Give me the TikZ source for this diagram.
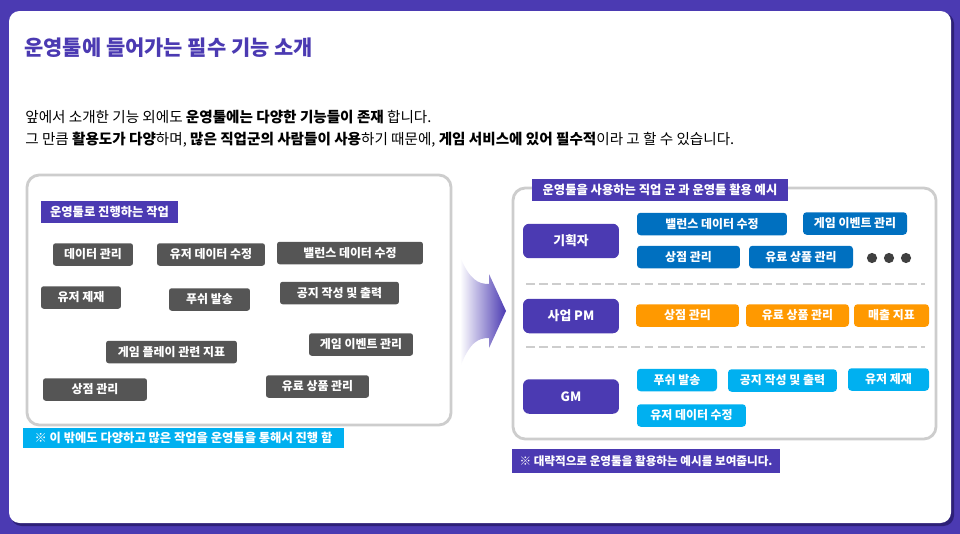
\documentclass[tikz,border=0pt]{standalone}
\usepackage{fontspec}
\setmainfont{Noto Sans CJK KR}
\usetikzlibrary{backgrounds}
\definecolor{opspurple}{RGB}{75, 58, 178}
\definecolor{opsshadow}{RGB}{45, 32, 120}
\definecolor{opsgray}{RGB}{85, 85, 85}
\definecolor{opsblue}{RGB}{0, 112, 192}
\definecolor{opsorange}{RGB}{255, 153, 0}
\definecolor{opscyan}{RGB}{0, 176, 240}
\definecolor{opsborder}{RGB}{205, 205, 205}
\definecolor{opsdots}{RGB}{64, 64, 64}

\begin{document}
\begin{tikzpicture}[x=0.02cm, y=-0.02cm,
    chip/.style={inner sep=0pt, minimum height=0.45cm, text=white,
        font=\bfseries\fontsize{6.8}{8}\selectfont},
    graybox/.style={chip, fill=opsgray, rounded corners=1.5pt},
    bluebox/.style={chip, fill=opsblue, rounded corners=2pt},
    orangebox/.style={chip, fill=opsorange, rounded corners=2pt},
    cyanbox/.style={chip, fill=opscyan, rounded corners=2pt},
    rolebox/.style={chip, fill=opspurple, rounded corners=3.5pt, minimum width=1.92cm,
        minimum height=0.69cm, font=\bfseries\fontsize{7.3}{8}\selectfont},
    tagbox/.style={chip, minimum height=0.44cm, font=\bfseries\fontsize{7}{8}\selectfont},
    panel/.style={draw=opsborder, line width=1.6pt, fill=white, rounded corners=7pt}]

% === 테두리와 배경 ===
\useasboundingbox (0,0) rectangle (960,534);
\fill[opspurple] (0,0) rectangle (960,534);
\fill[opsshadow, rounded corners=6pt] (11,13) rectangle (954,526);
\fill[white, rounded corners=6pt] (9,11) rectangle (951,523);

% === 제목과 설명 ===
\node[anchor=west, inner sep=0pt, text=opspurple, font=\bfseries\fontsize{11.9}{14}\selectfont]
    (title) at (24,48) {운영툴에 들어가는 필수 기능 소개};
\node[anchor=west, inner sep=0pt, font=\fontsize{8.3}{10}\selectfont] (line1) at (25,117)
    {앞에서 소개한 기능 외에도 \textbf{운영툴에는 다양한 기능들이 존재} 합니다.};
\node[anchor=west, inner sep=0pt, font=\fontsize{8.3}{10}\selectfont] (line2) at (25,140)
    {그 만큼 \textbf{활용도가 다양}하며, \textbf{많은 직업군의 사람들이 사용}하기 때문에, \textbf{게임 서비스에 있어 필수적}이라 고 할 수 있습니다.};

% === 왼쪽 패널: 작업 목록 ===
\draw[panel] (27,175) rectangle (451,425);
\node[tagbox, fill=opspurple, minimum width=2.74cm] (leftTag) at (109.5,212) {운영툴로 진행하는 작업};

\node[graybox, minimum width=1.6cm]  (dataMgmt)    at (93,254.5)  {데이터 관리};
\node[graybox, minimum width=2.16cm] (userEdit)    at (211,254.5) {유저 데이터 수정};
\node[graybox, minimum width=2.92cm] (balanceEdit) at (350,253)   {밸런스 데이터 수정};
\node[graybox, minimum width=1.6cm]  (userBan)     at (81,297.5)  {유저 제재};
\node[graybox, minimum width=1.62cm] (pushSend)    at (209.5,299.5) {푸쉬 발송};
\node[graybox, minimum width=2.38cm] (noticeOut)   at (339.5,293) {공지 작성 및 출력};
\node[graybox, minimum width=2.62cm] (playStat)    at (171.5,352) {게임 플레이 관련 지표};
\node[graybox, minimum width=2.08cm] (eventMgmt)   at (361,344.5) {게임 이벤트 관리};
\node[graybox, minimum width=2.08cm] (shopMgmt)    at (95,389.5)  {상점 관리};
\node[graybox, minimum width=2.06cm] (itemMgmt)    at (317.5,386.5) {유료 상품 관리};

\node[tagbox, fill=opscyan, minimum width=6.42cm, minimum height=0.4cm] (leftNote) at (183.5,438)
    {※ 이 밖에도 다양하고 많은 작업을 운영툴을 통해서 진행 함};

% === 화살표 ===
\shade[left color=white, right color=opspurple]
    (460,257) .. controls (470,280) and (478,284) .. (489,284) -- (489,274) -- (506,311)
    -- (489,348) -- (489,338) .. controls (478,338) and (470,342) .. (460,367) -- cycle;

% === 오른쪽 패널: 직업 군 ===
\draw[panel] (513,188) rectangle (936,439);
\node[tagbox, fill=opspurple, minimum width=5.12cm] (rightTag) at (660,190)
    {운영툴을 사용하는 직업 군 과 운영툴 활용 예시};

\node[rolebox] (planner) at (571,241)   {기획자};
\node[rolebox] (bizPM)   at (571,316)   {사업 PM};
\node[rolebox] (gm)      at (571,396.5) {GM};

% 구분선
\draw[opsborder, line width=1.2pt, dash pattern=on 5pt off 2.5pt] (526,284) -- (925,284);
\draw[opsborder, line width=1.2pt, dash pattern=on 5pt off 2.5pt] (526,347) -- (925,347);

% 기획자
\node[bluebox, minimum width=3.0cm]  (pBalance) at (712,224)   {밸런스 데이터 수정};
\node[bluebox, minimum width=2.08cm] (pEvent)   at (855,223.5) {게임 이벤트 관리};
\node[bluebox, minimum width=2.06cm] (pShop)    at (688.5,257) {상점 관리};
\node[bluebox, minimum width=2.08cm] (pItem)    at (801,257)   {유료 상품 관리};
\foreach \x in {872,889,906} {
    \fill[opsdots] (\x,258) circle (2.9pt);
}

% 사업 PM
\node[orangebox, minimum width=2.06cm] (bShop)  at (687.5,315.5) {상점 관리};
\node[orangebox, minimum width=2.06cm] (bItem)  at (797.5,315.5) {유료 상품 관리};
\node[orangebox, minimum width=1.5cm]  (bSales) at (891.5,315.5) {매출 지표};

% GM
\node[cyanbox, minimum width=1.6cm]  (gPush)   at (677,380)     {푸쉬 발송};
\node[cyanbox, minimum width=2.18cm] (gNotice) at (782.5,380.5) {공지 작성 및 출력};
\node[cyanbox, minimum width=1.62cm] (gBan)    at (888.5,379.5) {유저 제재};
\node[cyanbox, minimum width=2.18cm] (gUser)   at (691.5,415.5) {유저 데이터 수정};

\node[tagbox, fill=opspurple, minimum width=5.36cm, minimum height=0.48cm,
    font=\bfseries\fontsize{6.6}{8}\selectfont] (rightNote) at (646,461)
    {※ 대략적으로 운영툴을 활용하는 예시를 보여줍니다.};

\end{tikzpicture}
\end{document}
